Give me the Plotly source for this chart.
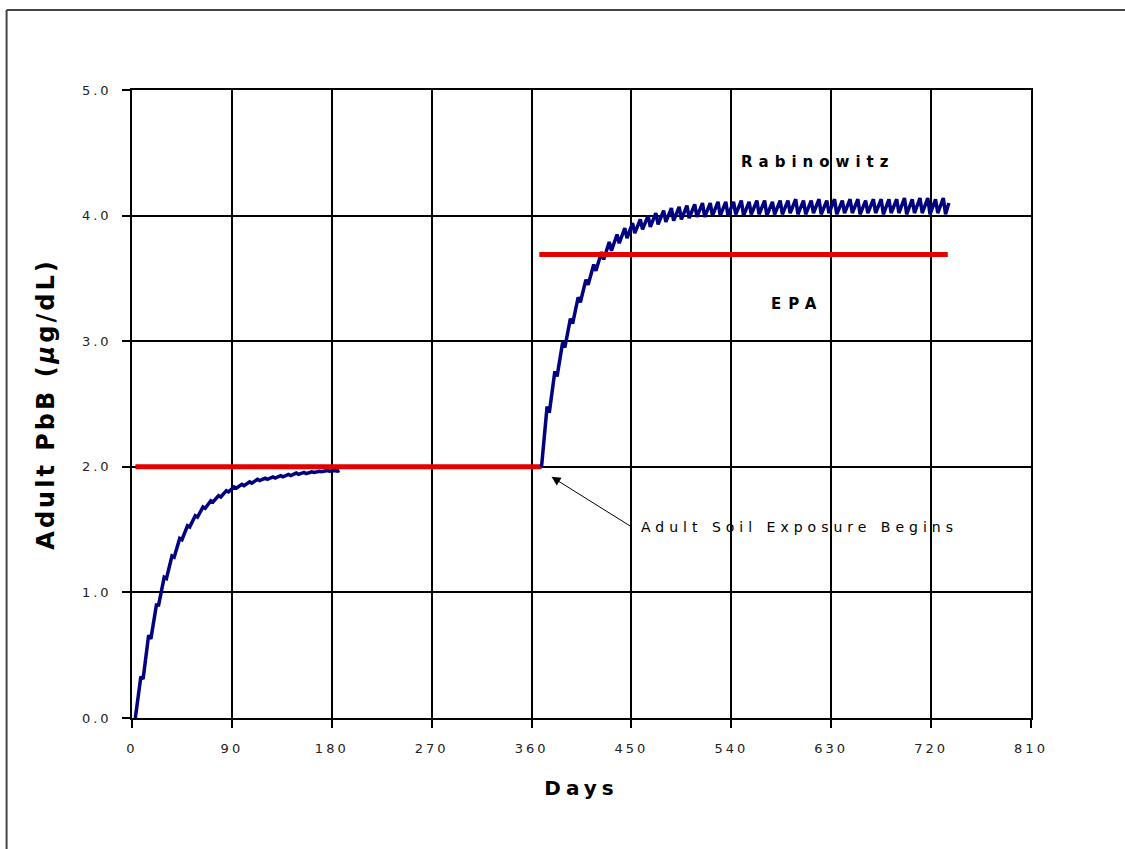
import plotly.graph_objects as go

# ---- data ----
pre_days = [3, 8, 10, 15, 17, 22, 24, 29, 31, 36, 38, 43, 45, 50, 52, 57, 59, 64, 66, 71,
            73, 78, 80, 85, 87, 92, 94, 99, 101, 106, 108, 113, 115, 120, 122, 127, 129, 134,
            136, 141, 143, 148, 150, 155, 157, 162, 164, 169, 171, 176, 178, 183, 185, 187]
pre_pbb = [0.00, 0.33, 0.31, 0.66, 0.63, 0.90, 0.90, 1.12, 1.11, 1.29, 1.28, 1.43, 1.42, 1.53,
           1.52, 1.61, 1.60, 1.68, 1.67, 1.73, 1.72, 1.77, 1.76, 1.81, 1.80, 1.84, 1.83, 1.86,
           1.85, 1.88, 1.87, 1.90, 1.89, 1.91, 1.90, 1.92, 1.91, 1.93, 1.92, 1.94, 1.93, 1.95,
           1.94, 1.955, 1.945, 1.96, 1.955, 1.965, 1.96, 1.97, 1.965, 1.97, 1.965, 1.97]

rab_days = [369, 374, 376, 381, 383, 388, 390, 395, 397, 402, 404, 409, 411, 416, 418, 423,
            425, 430, 432, 437, 439, 444, 446, 451, 453, 458, 460, 465, 467, 472, 474, 479,
            481, 486, 488, 493, 495, 500, 502, 507, 509, 514, 516, 521, 523, 528, 530, 535,
            537, 542, 544, 549, 551, 556, 558, 563, 565, 570, 572, 577, 579, 584, 586, 591,
            593, 598, 600, 605, 607, 612, 614, 619, 621, 626, 628, 633, 635, 640, 642, 647,
            649, 654, 656, 661, 663, 668, 670, 675, 677, 682, 684, 689, 691, 696, 698, 703,
            705, 710, 712, 717, 719, 724, 726, 731, 733, 736]
rab_pbb = [2.00, 2.48, 2.43, 2.76, 2.72, 2.99, 2.95, 3.18, 3.14, 3.35, 3.31, 3.49, 3.45, 3.61,
           3.56, 3.71, 3.65, 3.79, 3.72, 3.85, 3.78, 3.90, 3.82, 3.94, 3.86, 3.97, 3.89, 4.00,
           3.91, 4.02, 3.93, 4.04, 3.95, 4.06, 3.96, 4.07, 3.97, 4.08, 3.98, 4.09, 3.99, 4.10,
           3.99, 4.10, 4.00, 4.11, 4.00, 4.11, 4.00, 4.11, 4.01, 4.12, 4.00, 4.11, 4.01, 4.12,
           4.01, 4.12, 4.00, 4.11, 4.01, 4.12, 4.01, 4.12, 4.02, 4.13, 4.01, 4.12, 4.01, 4.12,
           4.02, 4.13, 4.01, 4.12, 4.02, 4.13, 4.01, 4.12, 4.02, 4.13, 4.02, 4.13, 4.01, 4.12,
           4.02, 4.13, 4.02, 4.13, 4.01, 4.13, 4.02, 4.13, 4.02, 4.14, 4.01, 4.13, 4.02, 4.14,
           4.02, 4.14, 4.01, 4.13, 4.02, 4.14, 4.01, 4.10]

epa1_days = [3, 369]
epa1_pbb = [2.0, 2.0]
epa2_days = [367, 735]
epa2_pbb = [3.69, 3.69]

x_ticks = [0, 90, 180, 270, 360, 450, 540, 630, 720, 810]
y_ticks = [0.0, 1.0, 2.0, 3.0, 4.0, 5.0]
y_tick_labels = ["0.0", "1.0", "2.0", "3.0", "4.0", "5.0"]


def spaced(s, px):
    return '<span style="letter-spacing:%spx">%s</span>' % (px, s)


NAVY = "#000080"
RED = "#e50000"

fig = go.Figure()
fig.add_trace(go.Scatter(x=epa1_days, y=epa1_pbb, mode="lines",
                         line=dict(color=RED, width=5), hoverinfo="skip"))
fig.add_trace(go.Scatter(x=pre_days, y=pre_pbb, mode="lines",
                         line=dict(color=NAVY, width=3.5), hoverinfo="skip"))
fig.add_trace(go.Scatter(x=rab_days, y=rab_pbb, mode="lines",
                         line=dict(color=NAVY, width=3.5), hoverinfo="skip"))
fig.add_trace(go.Scatter(x=epa2_days, y=epa2_pbb, mode="lines",
                         line=dict(color=RED, width=5), hoverinfo="skip"))

tick_font = dict(family="DejaVu Sans", size=13, color="#222222")

fig.update_layout(
    width=1125, height=849,
    margin=dict(l=132, r=94, t=90, b=131),
    paper_bgcolor="white", plot_bgcolor="white",
    showlegend=False,
    xaxis=dict(
        range=[0, 810], tickmode="array", tickvals=x_ticks,
        ticktext=[spaced(str(v), 3) for v in x_ticks],
        showgrid=True, gridcolor="black", gridwidth=1.5,
        zeroline=False, showline=True, linecolor="black", linewidth=1.5, mirror=True,
        ticks="outside", ticklen=8, tickwidth=1.5, tickcolor="black",
        tickfont=tick_font, ticklabelstandoff=10,
        title=dict(text=spaced("<b>Days</b>", 5),
                   font=dict(family="DejaVu Sans", size=20, color="black"), standoff=26),
    ),
    yaxis=dict(
        range=[0, 5], tickmode="array", tickvals=y_ticks,
        ticktext=[spaced(t, 3) for t in y_tick_labels],
        showgrid=True, gridcolor="black", gridwidth=1.5,
        zeroline=False, showline=True, linecolor="black", linewidth=1.5, mirror=True,
        ticks="outside", ticklen=8, tickwidth=1.5, tickcolor="black",
        tickfont=tick_font, ticklabelstandoff=8,
        title=dict(text=spaced("<b>Adult PbB (<i>μ</i>g/dL)</b>", 3),
                   font=dict(family="DejaVu Sans", size=24, color="black"), standoff=21),
    ),
    annotations=[
        dict(x=618, y=4.43, xref="x", yref="y", text=spaced("<b>Rabinowitz</b>", 6),
             showarrow=False, font=dict(family="DejaVu Sans", size=15, color="black")),
        dict(x=599, y=3.30, xref="x", yref="y", text=spaced("<b>EPA</b>", 7),
             showarrow=False, font=dict(family="DejaVu Sans", size=15, color="black")),
        dict(x=378, y=1.92, xref="x", yref="y", text="", showarrow=True,
             ax=80, ay=50, arrowhead=2, arrowsize=1.8, arrowwidth=1, arrowcolor="black"),
        dict(x=457, y=1.52, xref="x", yref="y", xanchor="left",
             text=spaced("Adult Soil Exposure Begins", 5), showarrow=False,
             font=dict(family="DejaVu Sans", size=14, color="black")),
    ],
    shapes=[
        dict(type="line", xref="paper", yref="paper", x0=-0.1395, x1=-0.1395,
             y0=1.1274, y1=-0.25, line=dict(color="#444444", width=2)),
        dict(type="line", xref="paper", yref="paper", x0=-0.1395, x1=1.2,
             y0=1.1274, y1=1.1274, line=dict(color="#444444", width=2)),
    ],
)

fig.write_html("out.html", config={"displayModeBar": False},
               post_script="document.body.style.margin='0';document.body.style.overflow='hidden';")
